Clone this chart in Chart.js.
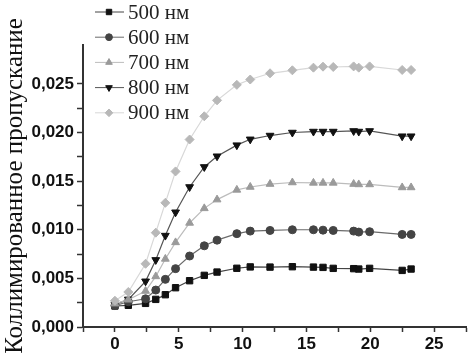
<!DOCTYPE html>
<html>
<head>
<meta charset="utf-8">
<script src="https://cdn.jsdelivr.net/npm/chart.js@4/dist/chart.umd.min.js"></script>
<style>
  body { margin: 0; background: #fff; }
</style>
</head>
<body>
<canvas id="chart" width="473" height="360"></canvas>
<script>
// time points (x axis)
const xValues = [0, 1.05, 2.4, 3.2, 3.95, 4.75, 5.85, 7.0, 8.0, 9.55, 10.6, 12.15, 13.9, 15.55, 16.3, 17.1, 18.7, 19.1, 19.95, 22.5, 23.2];

// collimated transmittance per wavelength
const t500 = [0.00216, 0.00223, 0.00243, 0.00284, 0.00332, 0.00404, 0.00476, 0.00531, 0.00565, 0.00604, 0.00618, 0.00616, 0.0062, 0.00616, 0.00613, 0.00603, 0.006, 0.00596, 0.00603, 0.00582, 0.00596];
const t600 = [0.0022, 0.0026, 0.0029, 0.0038, 0.0049, 0.006, 0.0073, 0.00835, 0.00893, 0.0096, 0.00986, 0.00993, 0.01, 0.01, 0.00996, 0.00993, 0.00986, 0.00976, 0.0098, 0.00952, 0.00952];
const t700 = [0.0024, 0.0028, 0.0037, 0.0052, 0.007, 0.0087, 0.0107, 0.0122, 0.0131, 0.0141, 0.0144, 0.0147, 0.01486, 0.01482, 0.01482, 0.01482, 0.0147, 0.01466, 0.01466, 0.01435, 0.01435];
const t800 = [0.0023, 0.00284, 0.0047, 0.0069, 0.0094, 0.0118, 0.0144, 0.01646, 0.01756, 0.0187, 0.0193, 0.01969, 0.02, 0.0201, 0.0201, 0.0201, 0.02016, 0.0201, 0.02016, 0.01962, 0.01962];
const t900 = [0.0027, 0.0036, 0.0065, 0.0097, 0.01277, 0.016, 0.01928, 0.02167, 0.02331, 0.0249, 0.02545, 0.02609, 0.0264, 0.02667, 0.02677, 0.02674, 0.0268, 0.02667, 0.0268, 0.02643, 0.02643];

const seriesLabels = ['500 нм', '600 нм', '700 нм', '800 нм', '900 нм'];
const yTitle = 'Коллимированное пропускание';

const toPoints = arr => arr.map((v, i) => ({ x: xValues[i], y: v }));

function makeSet(label, values, point, line, style, rotation, radius) {
    return {
        label: label,
        data: toPoints(values),
        borderColor: line,
        backgroundColor: point,
        pointBackgroundColor: point,
        pointBorderColor: point,
        pointStyle: style,
        pointRotation: rotation,
        pointRadius: radius,
        pointBorderWidth: 1,
        borderWidth: 1.2,
        tension: 0
    };
}

const datasets = [
    makeSet(seriesLabels[4], t900, '#b8b8b8', '#d8d8d8', 'rectRot', 0, 4.5),
    makeSet(seriesLabels[2], t700, '#9a9a9a', '#bcbcbc', 'triangle', 0, 4.5),
    makeSet(seriesLabels[1], t600, '#444444', '#6a6a6a', 'circle', 0, 4),
    makeSet(seriesLabels[3], t800, '#111111', '#555555', 'triangle', 180, 4.5),
    makeSet(seriesLabels[0], t500, '#111111', '#444444', 'rect', 0, 4.5)
];

// legend drawn inside the plot, top-left, in wavelength order
const legendPlugin = {
    id: 'innerLegend',
    afterDraw(chart) {
        const ctx = chart.ctx;
        const order = [4, 2, 1, 3, 0];
        ctx.save();
        order.forEach((di, i) => {
            const ds = chart.data.datasets[di];
            const y = 12 + i * 25.2;
            ctx.strokeStyle = ds.borderColor;
            ctx.lineWidth = 1;
            ctx.beginPath();
            ctx.moveTo(95, y);
            ctx.lineTo(124, y);
            ctx.stroke();
            ctx.fillStyle = ds.pointBackgroundColor;
            ctx.strokeStyle = ds.pointBorderColor;
            Chart.helpers.drawPoint(ctx, {
                pointStyle: ds.pointStyle,
                rotation: ds.pointRotation,
                radius: ds.pointRadius * 0.85,
                borderWidth: 1
            }, 109, y);
            ctx.fillStyle = '#222';
            ctx.font = '21px "Liberation Serif", "Times New Roman", serif';
            ctx.textBaseline = 'middle';
            ctx.textAlign = 'left';
            ctx.fillText(ds.label, 128, y + 1);
        });
        ctx.restore();
    }
};

const onStep = step => scale => {
    scale.ticks = scale.ticks.filter(t => Math.abs(t.value / step - Math.round(t.value / step)) < 1e-6);
};

const tickFont = { family: '"Liberation Sans", Arial, sans-serif', size: 17, weight: 'bold' };

new Chart(document.getElementById('chart'), {
    type: 'line',
    data: { datasets: datasets },
    options: {
        responsive: false,
        animation: false,
        layout: { padding: { top: 45, right: 7, left: 0, bottom: 0 } },
        plugins: {
            legend: { display: false },
            tooltip: { enabled: false }
        },
        scales: {
            x: {
                type: 'linear',
                min: -2.5,
                max: 27.5,
                afterBuildTicks: onStep(2.5),
                afterFit: s => { s.height = 33; },
                border: { display: true, color: '#333', width: 2 },
                grid: { display: true, drawOnChartArea: false, color: '#333', tickLength: 5, tickWidth: 1.5 },
                ticks: {
                    stepSize: 2.5,
                    autoSkip: false,
                    maxRotation: 0,
                    padding: 2,
                    color: '#111',
                    font: tickFont,
                    callback: v => (Math.abs(v % 5) < 1e-6 && v >= 0 && v <= 25) ? String(v) : ''
                }
            },
            y: {
                min: 0,
                max: 0.029,
                afterBuildTicks: onStep(0.0025),
                afterFit: s => { s.width = 83; },
                border: { display: true, color: '#333', width: 2 },
                grid: { display: true, drawOnChartArea: false, color: '#333', tickLength: 6, tickWidth: 1.5 },
                title: {
                    display: true,
                    text: yTitle,
                    color: '#111',
                    padding: 0,
                    font: { family: '"Liberation Serif", "Times New Roman", serif', size: 25 }
                },
                ticks: {
                    stepSize: 0.0025,
                    autoSkip: false,
                    padding: 3,
                    color: '#111',
                    font: tickFont,
                    callback: v => {
                        const k = Math.round(v / 0.0025);
                        return k % 2 === 0 ? v.toFixed(3).replace('.', ',') : '';
                    }
                }
            }
        }
    },
    plugins: [legendPlugin]
});
</script>
</body>
</html>
